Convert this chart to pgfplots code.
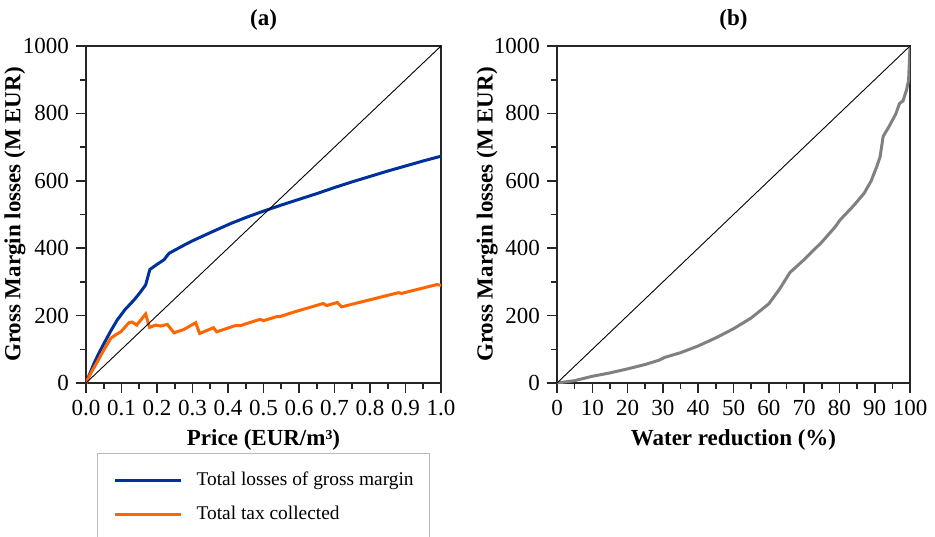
\documentclass[border=0pt]{standalone}
\usepackage{fontspec}
\setmainfont{Liberation Serif}
\usepackage{pgfplots}
\pgfplotsset{compat=1.18}
\usepackage{pgfplotstable}

\definecolor{gmblue}{RGB}{0,48,155}
\definecolor{taxorange}{RGB}{255,102,0}
\definecolor{curvegray}{RGB}{128,128,128}

% panel (a): price vs losses / tax
\pgfplotstableread{
price  loss
0      0
0.01   26
0.0225 58
0.035  86
0.051  118
0.07   155
0.088  187
0.11   218
0.135  246
0.152  268
0.168  291
0.175  318
0.18   337
0.2    352
0.22   366
0.234  385
0.255  397
0.276  409
0.3    422
0.356  449
0.407  473
0.45   491
0.5    510
0.55   528
0.6    545
0.65   562
0.7    580
0.75   597
0.8    613
0.85   629
0.9    644
0.95   659
1.0    673
}\grossmargin

\pgfplotstableread{
price  tax
0      0
0.015  32
0.032  63
0.05   98
0.07   133
0.085  144
0.098  152
0.121  179
0.13   181
0.143  172
0.168  205
0.179  165
0.196  172
0.21   169
0.229  174
0.248  149
0.276  159
0.309  179
0.32   147
0.359  164
0.368  152
0.42   170
0.434  170
0.49   189
0.5    185
0.537  197
0.546  197
0.584  210
0.668  236
0.678  230
0.708  239
0.72   226
0.88   268
0.889  266
0.988  292
1.0    290
}\taxcollected

% panel (b): water reduction vs losses
\pgfplotstableread{
red   loss
0     0
5     7
10    20
15    30
20    42
25    55
29    68
30.5  76
35    90
40    110
45    134
50    161
55    193
60    235
63    278
66    328
70    366
75    418
78.7  462
80.2  484
84    526
87    563
89    600
90.5  640
91.5  670
92.4  732
94    760
96    799
97    829
98    837
99    869
99.6  899
99.8  948
100   1000
}\waterloss

\pgfplotsset{
  panel/.style={
    scale only axis,
    height=168.5pt,
    ymin=0, ymax=1000,
    ytick={0,200,...,1000},
    minor y tick num=1,
    tick align=outside,
    xtick pos=bottom, ytick pos=left,
    major tick length=5pt, minor tick length=3pt,
    axis line style={black!85, line width=0.8pt},
    every tick/.style={black!85, line width=0.8pt},
    tick label style={font=\fontsize{11.5}{13}\selectfont},
    label style={font=\fontsize{11.5}{13}\selectfont\bfseries},
    title style={font=\fontsize{11.5}{13}\selectfont\bfseries,
      at={(0.5,1)}, anchor=center, yshift=7pt},
    /pgf/number format/assume math mode=true,
    /pgf/number format/1000 sep={},
    ylabel={Gross Margin losses (M EUR)},
  },
}

\begin{document}
\begin{tikzpicture}
\begin{axis}[panel,
  at={(43pt,-191.5pt)}, anchor=south west,
  width=177.5pt,
  xmin=0, xmax=1,
  xtick={0,0.1,...,1.0},
  minor x tick num=1,
  xticklabel style={/pgf/number format/.cd, fixed, fixed zerofill, precision=1},
  xlabel={Price (EUR/m³)},
  ylabel style={at={(axis description cs:-0.2,0.5)}, anchor=center},
  title={(a)},
  legend cell align=left,
  legend image code/.code={\draw[#1] (0pt,0pt) -- (33pt,0pt);},
  legend style={at={(0.031,-0.208)}, anchor=north west,
    draw=gray!55, line width=0.6pt,
    inner xsep=8pt, inner ysep=9pt, row sep=8.8pt, column sep=7pt,
    nodes={inner sep=0pt},
    font=\fontsize{9.7}{11.6}\selectfont},
]
\addplot[gmblue, line width=1.5pt] table[x=price, y=loss] {\grossmargin};
\addlegendentry{Total losses of gross margin}
\addplot[taxorange, line width=1.5pt] table[x=price, y=tax] {\taxcollected};
\addlegendentry{Total tax collected}
\addplot[black, line width=0.45pt, forget plot] coordinates {(0,0) (1,1000)};
\end{axis}

\begin{axis}[panel,
  at={(278.5pt,-191.5pt)}, anchor=south west,
  width=176.5pt,
  xmin=0, xmax=100,
  xtick={0,10,...,100},
  minor x tick num=1,
  xlabel={Water reduction (\%)},
  ylabel style={at={(axis description cs:-0.198,0.5)}, anchor=center},
  title={(b)},
]
\addplot[curvegray, line width=1.5pt] table[x=red, y=loss] {\waterloss};
\addplot[black, line width=0.45pt] coordinates {(0,0) (100,1000)};
\end{axis}

\pgfresetboundingbox
\path (0pt,0pt) rectangle (467.5pt,-268pt);
\end{tikzpicture}
\end{document}
